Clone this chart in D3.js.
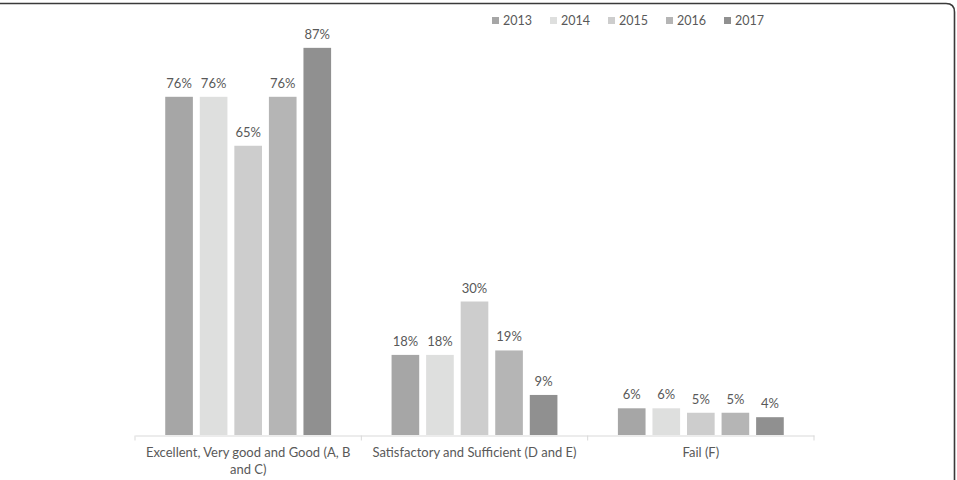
<!DOCTYPE html>
<html lang="en">
<head>
    <meta charset="UTF-8">
    <script src="https://cdnjs.cloudflare.com/ajax/libs/d3/7.8.5/d3.min.js"></script>
    <style>
        body { margin: 0; background: #fff; }
        svg text { font-family: Lato, "Open Sans", sans-serif; fill: #595959; }
    </style>
</head>
<body>
    <svg id="chart" width="957" height="480"></svg>
    <script>
        let categories = ["Excellent, Very good and Good (A, B and C)", "Satisfactory and Sufficient (D and E)", "Fail (F)"];
        let years = ["2013", "2014", "2015", "2016", "2017"];
        let values2013 = [76, 18, 6];
        let values2014 = [76, 18, 6];
        let values2015 = [65, 30, 5];
        let values2016 = [76, 19, 5];
        let values2017 = [87, 9, 4];
        let colors = ["#a6a6a6", "#dedfde", "#cdcdcd", "#b5b5b5", "#909090"];

        let series = [values2013, values2014, values2015, values2016, values2017];
        let rows = categories.map((c, i) => ({
            cat: c,
            vals: years.map((y, j) => ({year: y, value: series[j][i], color: colors[j]}))
        }));

        let svg = d3.select("#chart");

        // outer frame: top and right edge with rounded corner
        svg.append("path")
            .attr("d", "M0,3.5 H946 Q954.5,3.5 954.5,12 V480")
            .attr("fill", "none")
            .attr("stroke", "#3a3a3a")
            .attr("stroke-width", 1.6);

        let x0 = d3.scaleBand().domain(categories).range([135, 814]);
        let x1 = d3.scaleBand().domain(years).range([0, x0.bandwidth()]).paddingInner(0.2).paddingOuter(0.875);
        let y = d3.scaleLinear().domain([0, 100]).range([435, 435 - 445]);

        let groups = svg.append("g").selectAll("g")
            .data(rows)
            .enter()
            .append("g")
            .attr("transform", d => "translate(" + x0(d.cat) + ",0)");

        groups.selectAll("rect")
            .data(d => d.vals)
            .enter()
            .append("rect")
            .attr("x", d => x1(d.year))
            .attr("y", d => y(d.value))
            .attr("width", x1.bandwidth())
            .attr("height", d => y(0) - y(d.value))
            .attr("fill", d => d.color);

        groups.selectAll("text.lbl")
            .data(d => d.vals)
            .enter()
            .append("text")
            .attr("class", "lbl")
            .attr("x", d => x1(d.year) + x1.bandwidth() / 2)
            .attr("y", d => y(d.value) - 9)
            .attr("text-anchor", "middle")
            .style("font-size", "13px")
            .text(d => d.value + "%");

        // category axis
        let xAxis = d3.axisBottom(x0).tickSize(0).tickPadding(12);
        let axisG = svg.append("g")
            .attr("transform", "translate(0,435.5)")
            .call(xAxis);
        axisG.select(".domain").attr("stroke", "#d9d9d9");
        axisG.selectAll(".tick text")
            .style("font-size", "13px")
            .attr("fill", "#595959")
            .call(wrap, 215);
        // divider ticks between groups
        axisG.selectAll("line.div")
            .data([135, 135 + x0.step(), 135 + 2 * x0.step(), 814])
            .enter()
            .append("line")
            .attr("class", "div")
            .attr("x1", d => d).attr("x2", d => d)
            .attr("y1", 0).attr("y2", 5)
            .attr("stroke", "#d9d9d9");

        function wrap(textSel, width) {
            textSel.each(function() {
                let text = d3.select(this);
                let words = text.text().split(/\s+/);
                let line = [];
                let lineNo = 0;
                let yy = text.attr("y");
                let dy = parseFloat(text.attr("dy"));
                text.text(null);
                let tspan = text.append("tspan").attr("x", 0).attr("y", yy).attr("dy", dy + "em");
                words.forEach(w => {
                    line.push(w);
                    tspan.text(line.join(" "));
                    if (tspan.node().getComputedTextLength() > width && line.length > 1) {
                        line.pop();
                        tspan.text(line.join(" "));
                        line = [w];
                        lineNo++;
                        tspan = text.append("tspan").attr("x", 0).attr("y", yy)
                            .attr("dy", (lineNo * 1.3 + dy) + "em").text(w);
                    }
                });
            });
        }

        // legend
        let legend = svg.append("g").selectAll("g")
            .data(years)
            .enter()
            .append("g")
            .attr("transform", (d, i) => "translate(" + (492 + i * 58) + ",17)");
        legend.append("rect")
            .attr("width", 7).attr("height", 7)
            .attr("fill", (d, i) => colors[i]);
        legend.append("text")
            .attr("x", 11).attr("y", 8)
            .style("font-size", "12.5px")
            .text(d => d);
    </script>
</body>
</html>
